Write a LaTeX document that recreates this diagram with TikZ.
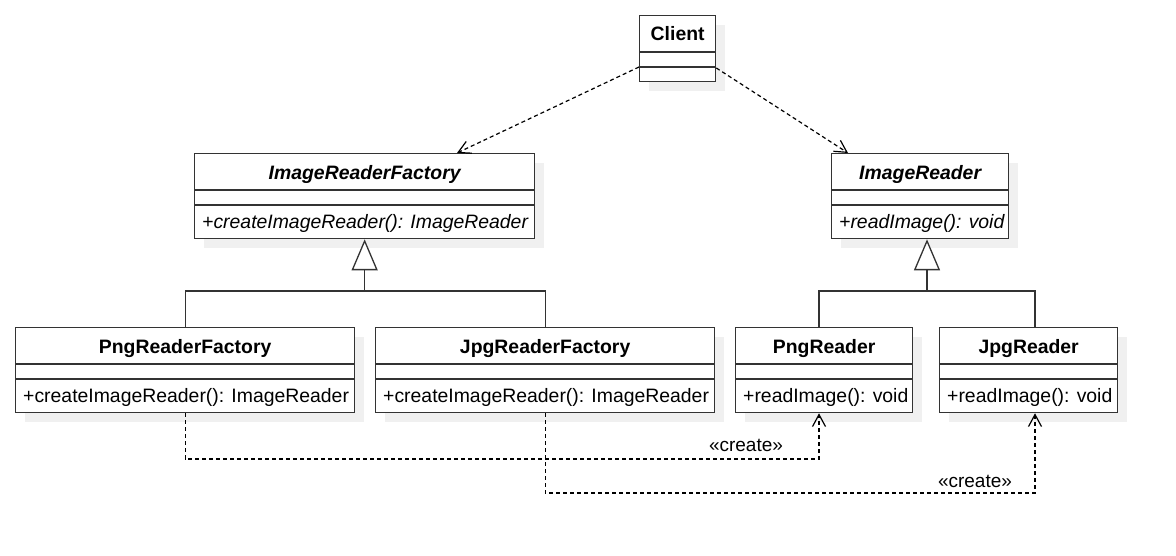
\documentclass[tikz,border=0pt]{standalone}
\usepackage{fontspec}
\setmainfont{Liberation Sans}
\usetikzlibrary{arrows.meta,calc}
\definecolor{lc}{HTML}{333333}
\definecolor{shc}{HTML}{F0F0F0}
\tikzset{
  clsbox/.style={draw=lc, line width=1.3pt, fill=white, inner sep=0pt, anchor=north west},
  shadowbox/.style={fill=shc, draw=none, inner sep=0pt, anchor=north west},
  sep/.style={draw=lc, line width=1.3pt},
  ttl/.style={font=\fontsize{19.4}{23}\selectfont\bfseries, anchor=base, inner sep=0pt},
  absttl/.style={font=\fontsize{19.4}{23}\selectfont\bfseries\itshape, anchor=base, inner sep=0pt},
  mth/.style={font=\fontsize{19.4}{23}\selectfont, anchor=base west, inner sep=0pt},
  absmth/.style={font=\fontsize{19.4}{23}\selectfont\itshape, anchor=base west, inner sep=0pt},
  lbl/.style={font=\fontsize{19}{23}\selectfont, inner sep=0pt},
  dep/.style={draw=black, line width=1.2pt, dash pattern=on 4pt off 3pt, -{Straight Barb[length=12pt,width=13pt]}},
  gen/.style={sep, -{Triangle[length=31pt,width=26pt,fill=white]}},
}
\newcommand{\umlclass}[8]{%
  \node[shadowbox, minimum width=#4pt, minimum height=85pt] (#1s) at (#2+10,#3+10) {};
  \node[clsbox, minimum width=#4pt, minimum height=85pt] (#1) at (#2,#3) {};
  \draw[sep] ($(#1.north west)+(0,37)$) -- ($(#1.north east)+(0,37)$);
  \draw[sep] ($(#1.north west)+(0,52)$) -- ($(#1.north east)+(0,52)$);
  \node[#5] (#1t) at ($(#1.north)+(0,26.3)$) {#6};
  \node[#7] (#1m) at ($(#1.north west)+(8,75.7)$) {#8};
}
\begin{document}
\begin{tikzpicture}[x=1pt,y=-1pt]
\fill[white] (0,0) rectangle (1176,556);
\useasboundingbox (0,0) rectangle (1176,556);
% Client
\node[shadowbox, minimum width=76pt, minimum height=66pt] (clients) at (649,25) {};
\node[clsbox, minimum width=76pt, minimum height=66pt] (client) at (639,15) {};
\draw[sep] ($(client.north west)+(0,37)$) -- ($(client.north east)+(0,37)$);
\draw[sep] ($(client.north west)+(0,52)$) -- ($(client.north east)+(0,52)$);
\node[ttl] (clientt) at ($(client.north)+(0,25.7)$) {Client};
% classes
\umlclass{irf}{194}{153}{340}{absttl}{ImageReaderFactory}{absmth}{+createImageReader(): ImageReader}
\umlclass{ir}{831}{153}{177}{absttl}{ImageReader}{absmth}{+readImage(): void}
\umlclass{prf}{15}{327}{339}{ttl}{PngReaderFactory}{mth}{+createImageReader(): ImageReader}
\umlclass{jrf}{375}{327}{339}{ttl}{JpgReaderFactory}{mth}{+createImageReader(): ImageReader}
\umlclass{pr}{735}{327}{177}{ttl}{PngReader}{mth}{+readImage(): void}
\umlclass{jr}{939}{327}{178}{ttl}{JpgReader}{mth}{+readImage(): void}
% dependencies from client
\draw[dep] ($(client.north west)+(0,52)$) -- ($(irf.north west)+(263,0)$);
\draw[dep] ($(client.north east)+(0,53)$) -- ($(ir.north west)+(17,0)$);
% generalizations
\coordinate (lbar) at (0,291);
\draw[sep] (prf.north) |- (jrf.north |- lbar) -- (jrf.north);
\draw[gen] (irf.south |- lbar) -- (irf.south);
\coordinate (prtop) at ($(pr.north west)+(84,0)$);
\coordinate (jrtop) at ($(jr.north west)+(96,0)$);
\coordinate (irb) at ($(ir.south west)+(96,0)$);
\draw[sep] (prtop) |- (jrtop |- lbar) -- (jrtop);
\draw[gen] (irb |- lbar) -- (irb);
% create dependencies
\coordinate (prb) at ($(pr.south west)+(84,0)$);
\coordinate (jrb) at ($(jr.south west)+(96,0)$);
\coordinate (c1) at (0,459);
\coordinate (c2) at (0,493);
\draw[dep] (prf.south) |- (prb |- c1) -- (prb);
\draw[dep] (jrf.south) |- (jrb |- c2) -- (jrb);
\node[lbl] (l1) at (746,445) {«create»};
\node[lbl] (l2) at (975,481) {«create»};
\end{tikzpicture}
\end{document}
